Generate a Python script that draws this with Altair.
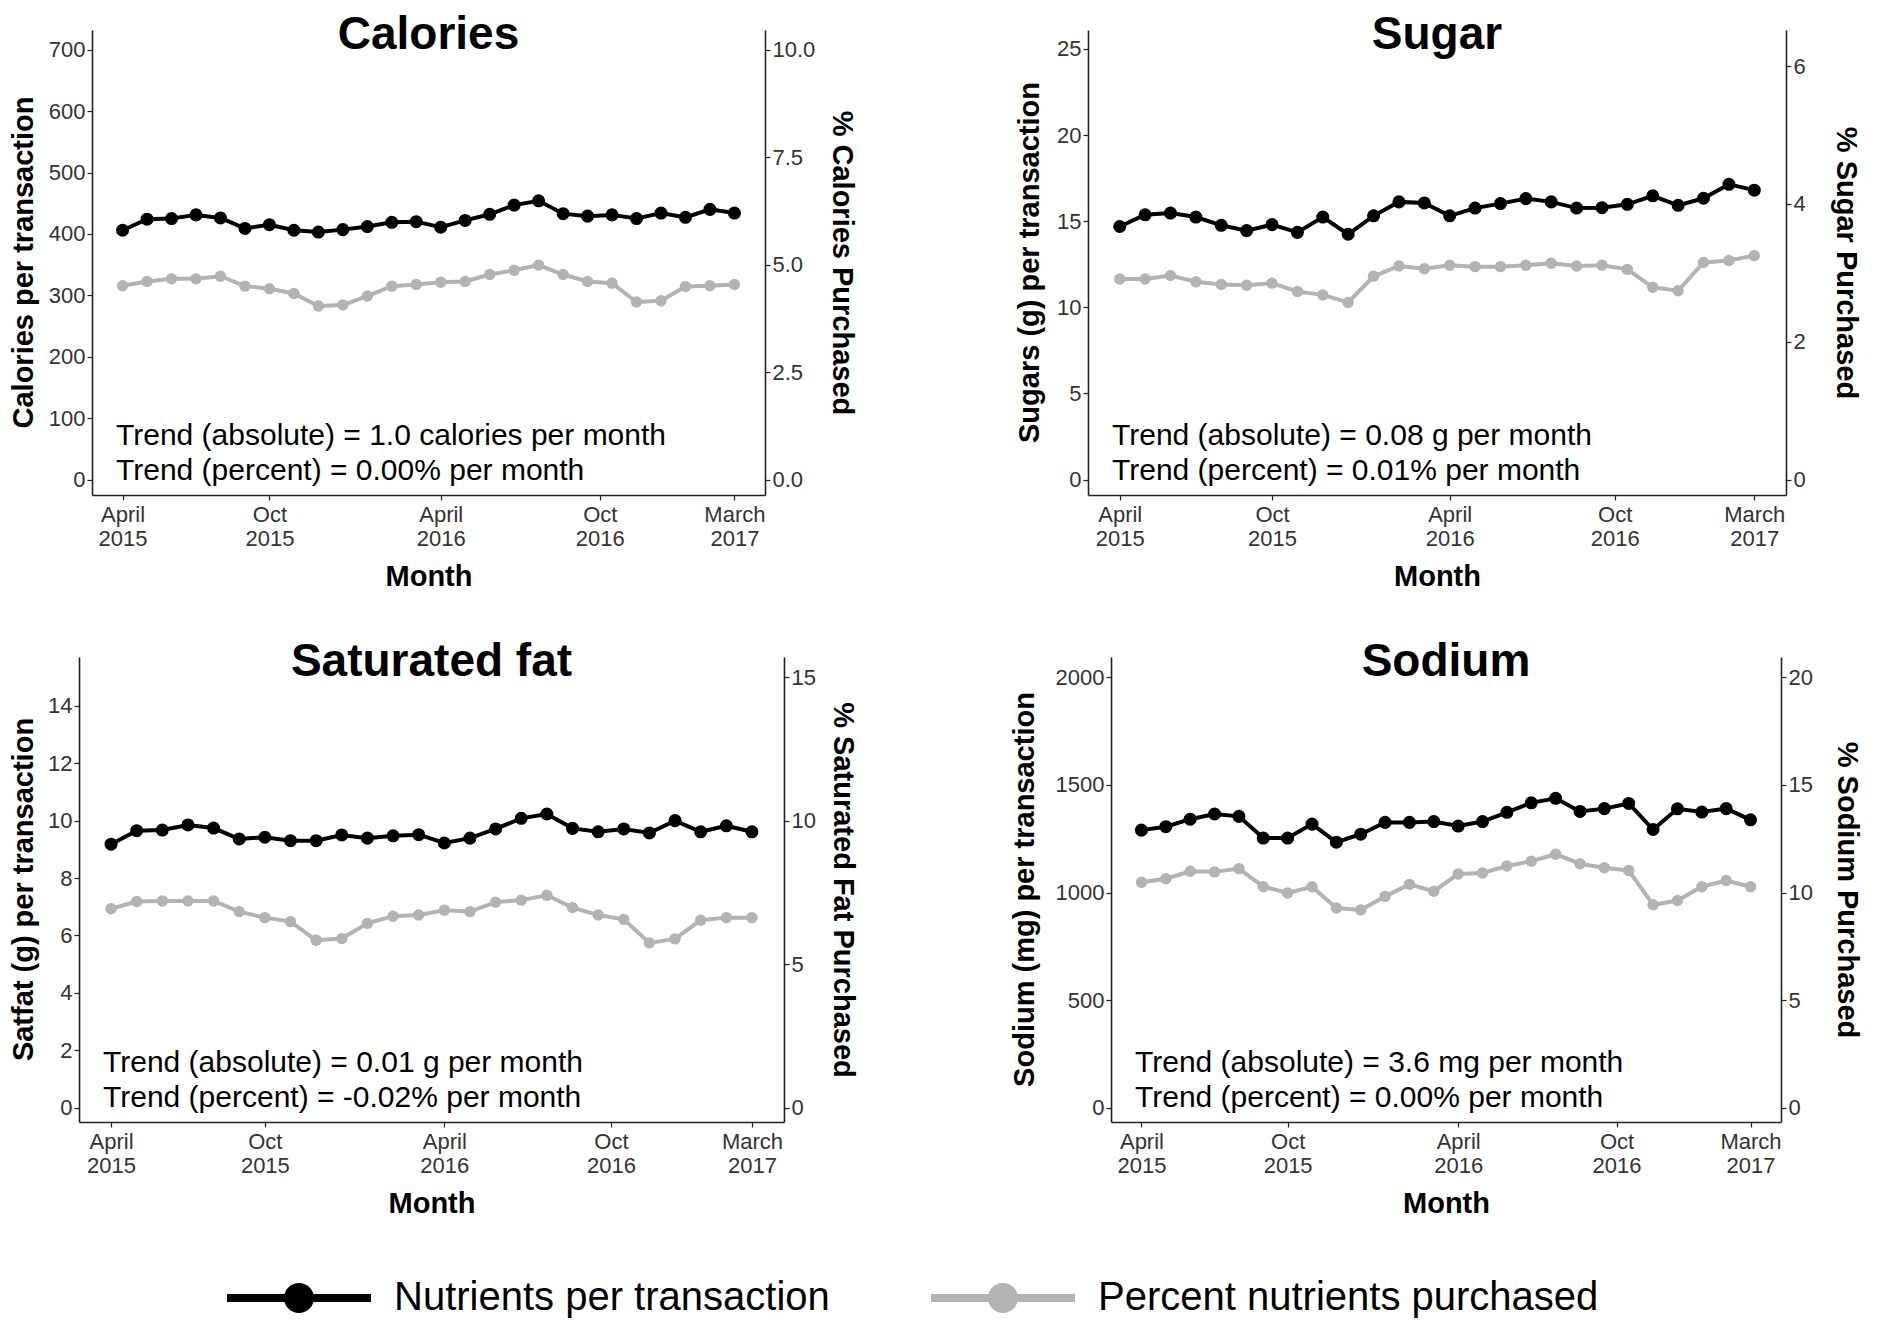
import altair as alt
import pandas as pd

FONT = "Liberation Sans"

periods = list(range(26))
x_tick_pos = [0, 6, 13, 19.5, 25]
x_tick_month = ["April", "Oct", "April", "Oct", "March"]
x_tick_year = ["2015", "2015", "2016", "2016", "2017"]

series_names = ["Nutrients per transaction", "Percent nutrients purchased"]
series_colors = ["#000000", "#b3b3b3"]

cal_abs = [406, 424, 425, 431, 426, 409, 415, 406, 403, 407, 412, 419, 420, 411, 422, 432, 447, 454, 433, 429, 431, 425, 434, 427, 440, 434]
cal_pct = [4.51, 4.61, 4.67, 4.67, 4.73, 4.50, 4.44, 4.33, 4.04, 4.06, 4.27, 4.50, 4.54, 4.59, 4.61, 4.77, 4.87, 4.99, 4.77, 4.61, 4.57, 4.13, 4.16, 4.49, 4.51, 4.54]

sug_abs = [14.69, 15.37, 15.47, 15.24, 14.76, 14.45, 14.80, 14.35, 15.24, 14.24, 15.31, 16.12, 16.06, 15.31, 15.76, 16.02, 16.31, 16.12, 15.76, 15.78, 15.98, 16.47, 15.92, 16.33, 17.14, 16.80]
sug_pct = [2.91, 2.91, 2.96, 2.87, 2.83, 2.82, 2.85, 2.73, 2.68, 2.57, 2.95, 3.10, 3.06, 3.11, 3.09, 3.09, 3.11, 3.14, 3.10, 3.11, 3.05, 2.79, 2.74, 3.15, 3.18, 3.25]

sf_abs = [9.18, 9.65, 9.67, 9.85, 9.74, 9.36, 9.42, 9.30, 9.30, 9.50, 9.39, 9.47, 9.51, 9.22, 9.39, 9.71, 10.08, 10.23, 9.73, 9.61, 9.71, 9.57, 10.00, 9.61, 9.82, 9.61]
sf_pct = [6.93, 7.18, 7.20, 7.20, 7.20, 6.83, 6.62, 6.48, 5.83, 5.89, 6.42, 6.67, 6.71, 6.88, 6.83, 7.16, 7.23, 7.40, 6.97, 6.71, 6.56, 5.74, 5.88, 6.53, 6.62, 6.62]

na_abs = [1290, 1306, 1341, 1365, 1354, 1253, 1253, 1318, 1234, 1271, 1326, 1326, 1330, 1309, 1330, 1373, 1417, 1438, 1377, 1390, 1414, 1293, 1389, 1374, 1390, 1338]
na_pct = [10.48, 10.64, 10.99, 10.96, 11.11, 10.27, 9.98, 10.27, 9.28, 9.19, 9.82, 10.38, 10.06, 10.86, 10.91, 11.23, 11.46, 11.78, 11.34, 11.15, 11.02, 9.43, 9.63, 10.27, 10.56, 10.27]

# label expression for the x axis (two-line labels)
label_expr = ""
for p, m, y in zip(x_tick_pos, x_tick_month, x_tick_year):
    label_expr += f"datum.value == {p} ? ['{m}', '{y}'] : "
label_expr += "''"

legend_symbol = ("M-3.6,-0.2L3.6,-0.2L3.6,0.2L-3.6,0.2Z "
                 "M-0.75,0A0.75,0.75 0 1,1 0.75,0A0.75,0.75 0 1,1 -0.75,0Z")

color_enc = alt.Color(
    "series:N",
    scale=alt.Scale(domain=series_names, range=series_colors),
    legend=alt.Legend(
        title=None, orient="none", direction="horizontal", columns=2,
        legendX=271, legendY=1248,
        symbolType=legend_symbol, symbolSize=1600, symbolStrokeWidth=0,
        symbolOpacity=1, labelFontSize=40, labelFont=FONT, labelColor="black",
        labelOffset=75, columnPadding=101, padding=0, labelLimit=0,
    ),
)

PANEL_H = 465


def panel(title, abs_vals, pct_vals, ratio, left_dom, left_ticks, right_ticks,
          right_fmt, left_title, right_title, trend1, trend2, width,
          left_title_x, right_pad=12, height=PANEL_H):
    df_abs = pd.DataFrame({"period": periods, "value": abs_vals, "series": series_names[0]})
    df_pct = pd.DataFrame({"period": periods, "value": pct_vals, "series": series_names[1]})

    x = alt.X("period:Q",
              scale=alt.Scale(domain=[-1.25, 26.25], nice=False, zero=False),
              axis=alt.Axis(values=x_tick_pos, labelExpr=label_expr, title="Month",
                            labelLineHeight=24, labelBaseline="top", labelPadding=4,
                            titlePadding=13))
    yl = alt.Y("value:Q",
               scale=alt.Scale(domain=left_dom, nice=False, zero=False),
               axis=alt.Axis(values=left_ticks, title=None, orient="left", format="d"))
    right_dom = [d / ratio for d in left_dom]
    yr = alt.Y("value:Q",
               scale=alt.Scale(domain=right_dom, nice=False, zero=False),
               axis=alt.Axis(values=right_ticks, title=right_title, orient="right",
                             format=right_fmt, titlePadding=right_pad))

    black_line = alt.Chart(df_abs).mark_line(color="black", strokeWidth=4).encode(x=x, y=yl)
    black_pts = alt.Chart(df_abs).mark_point(filled=True, size=170, opacity=1).encode(
        x=x, y=yl, color=color_enc)
    gray_line = alt.Chart(df_pct).mark_line(color=series_colors[1], strokeWidth=4).encode(x=x, y=yr)
    gray_pts = alt.Chart(df_pct).mark_point(filled=True, size=130, opacity=1).encode(
        x=x, y=yr, color=color_enc)

    trend = alt.Chart(pd.DataFrame({"t": [trend1 + "\n" + trend2]})).mark_text(
        align="left", baseline="middle", lineBreak="\n", fontSize=30, lineHeight=35,
        font=FONT, color="black").encode(x=alt.value(24), y=alt.value(406), text="t:N")
    ttl = alt.Chart(pd.DataFrame({"t": [title]})).mark_text(
        align="center", baseline="middle", fontSize=46, fontWeight="bold",
        font=FONT, color="black").encode(x=alt.value(width / 2), y=alt.value(5), text="t:N")
    ytitle = alt.Chart(pd.DataFrame({"t": [left_title]})).mark_text(
        align="center", baseline="middle", fontSize=29, fontWeight="bold", angle=270,
        font=FONT, color="black").encode(x=alt.value(left_title_x), y=alt.value(height / 2),
                                         text="t:N")

    return alt.layer(
        alt.layer(black_line, black_pts),
        alt.layer(gray_line, gray_pts),
        trend, ttl, ytitle,
    ).resolve_scale(y="independent").properties(width=width, height=height)


def spacer():
    # invisible, zero-extent anchor so that each row starts at its own left bound
    return alt.Chart(pd.DataFrame({"s": [0]})).mark_point(size=0, opacity=0).encode(
        x=alt.value(0), y=alt.value(0)).properties(width=1, height=PANEL_H)


cal = panel("Calories", cal_abs, cal_pct, 70, [-25, 732], list(range(0, 701, 100)),
            [0, 2.5, 5, 7.5, 10], ".1f", "Calories per transaction", "% Calories Purchased",
            "Trend (absolute) = 1.0 calories per month", "Trend (percent) = 0.00% per month", 673,
            left_title_x=-68)
sug = panel("Sugar", sug_abs, sug_pct, 4, [-0.9, 26.1], [0, 5, 10, 15, 20, 25],
            [0, 2, 4, 6], "d", "Sugars (g) per transaction", "% Sugar Purchased",
            "Trend (absolute) = 0.08 g per month", "Trend (percent) = 0.01% per month", 698,
            left_title_x=-58, right_pad=25)
sf = panel("Saturated fat", sf_abs, sf_pct, 1, [-0.5, 15.7], [0, 2, 4, 6, 8, 10, 12, 14],
           [0, 5, 10, 15], "d", "Satfat (g) per transaction", "% Saturated Fat Purchased",
           "Trend (absolute) = 0.01 g per month", "Trend (percent) = -0.02% per month", 705,
           left_title_x=-55)
na = panel("Sodium", na_abs, na_pct, 100, [-67, 2095], [0, 500, 1000, 1500, 2000],
           [0, 5, 10, 15, 20], "d", "Sodium (mg) per transaction", "% Sodium Purchased",
           "Trend (absolute) = 3.6 mg per month", "Trend (percent) = 0.00% per month", 670,
           left_title_x=-86, right_pad=19)

top = alt.hconcat(spacer(), alt.hconcat(cal, sug, spacing=159), spacing=0)
bottom = alt.hconcat(spacer(), alt.hconcat(sf, na, spacing=153), spacing=0)

chart = alt.vconcat(top, bottom, spacing=48).properties(
    padding={"top": 4, "left": 0, "right": 0, "bottom": 0}
).configure_view(
    stroke=None
).configure_axis(
    grid=False, domainColor="#222222", domainWidth=1.6, tickColor="#222222", tickSize=5,
    tickWidth=1.2, labelColor="#333333", labelFontSize=22, labelFont=FONT,
    titleFont=FONT, titleFontSize=29, titleFontWeight="bold", titleColor="black",
)

chart.save("out.html", embed_options={"renderer": "svg", "actions": False})
